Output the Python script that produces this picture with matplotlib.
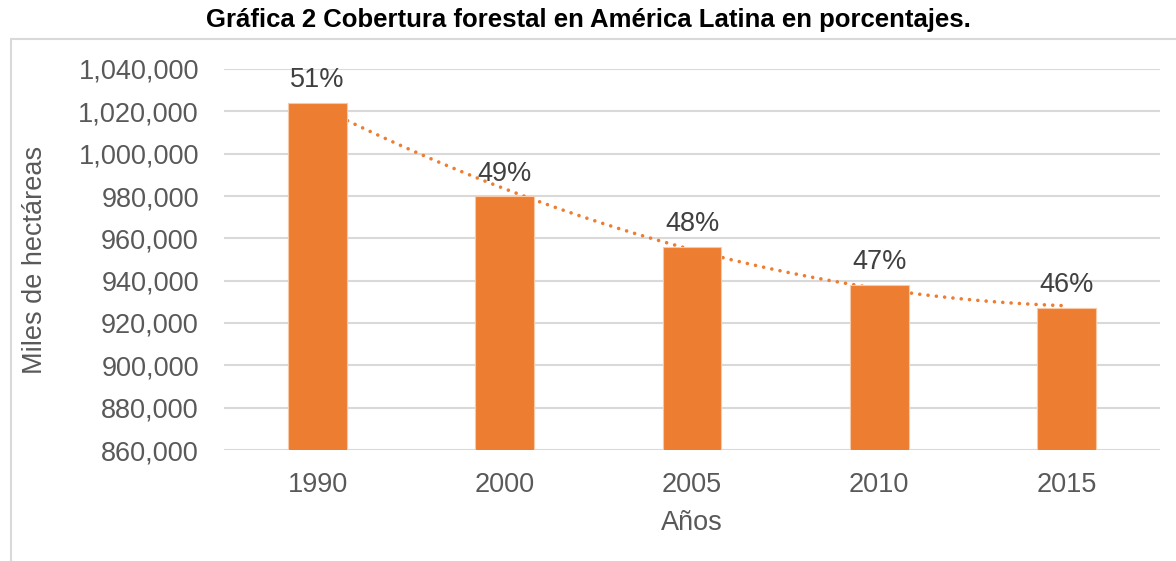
import matplotlib
matplotlib.use("Agg")
import matplotlib.pyplot as plt
import numpy as np
from matplotlib.ticker import FuncFormatter
from matplotlib.patches import Rectangle

years = ["1990", "2000", "2005", "2010", "2015"]
hectareas = [1024100, 979800, 955900, 938100, 927000]
porcentajes = ["51%", "49%", "48%", "47%", "46%"]

ORANGE = "#ED7D31"
GRAY = "#595959"
GRID = "#D9D9D9"

plt.rcParams['font.family'] = ['Liberation Sans', 'DejaVu Sans']

fig = plt.figure(figsize=(11.76, 5.61), dpi=100)
ax = fig.add_axes([224/1176, 1 - 450/561, 936/1176, 381/561])

# chart area border (left and top edge visible)
fig.patches.append(Rectangle((11/1176, -0.1), 1.2, 1 - 39/561 + 0.1, transform=fig.transFigure,
                             fill=False, edgecolor=GRID, linewidth=1.5, zorder=0))

x = np.arange(len(years))
ax.bar(x, hectareas, width=0.315, color=ORANGE, edgecolor="#F7C9A8", linewidth=0.8, zorder=3)

# polynomial (order 2) trendline like Excel
coef = np.polyfit(x, hectareas, 2)
xt = np.linspace(x[0], x[-1], 200)
ax.plot(xt, np.polyval(coef, xt), color=ORANGE, linewidth=2.6,
        linestyle=(0, (0.01, 2.3)), dash_capstyle='round', zorder=2)

for xi, v, p in zip(x, hectareas, porcentajes):
    ax.annotate(p, (xi, v), xytext=(0, 7), textcoords="offset points",
                ha="center", va="bottom", fontsize=19.5, color="#404040", zorder=4)

ax.set_xlim(-0.5, len(years) - 0.5)
ax.set_ylim(860000, 1040000)
ax.set_yticks(np.arange(860000, 1040001, 20000))
ax.yaxis.set_major_formatter(FuncFormatter(lambda v, pos: "{:,.0f}".format(v)))
ax.set_xticks(x)
ax.set_xticklabels(years)
ax.grid(axis="y", color=GRID, linewidth=1.5, zorder=0)
ax.set_axisbelow(True)
for s in ax.spines.values():
    s.set_visible(False)
ax.tick_params(axis="y", length=0, pad=18, labelsize=19.5, labelcolor=GRAY)
ax.tick_params(axis="x", length=0, pad=16, labelsize=19.5, labelcolor=GRAY)

ax.set_ylabel("Miles de hectáreas", fontsize=19.5, color=GRAY)
ax.yaxis.set_label_coords(-0.188, 0.5)
ax.set_xlabel("Años", fontsize=19.5, color=GRAY)
ax.xaxis.set_label_coords(0.5, -0.157)

fig.text(588/1176, 1 - 20/561, "Gráfica 2 Cobertura forestal en América Latina en porcentajes.",
         ha="center", va="center", fontsize=18.5, fontweight="bold", color="black")

fig.savefig("out.png", dpi=100)
